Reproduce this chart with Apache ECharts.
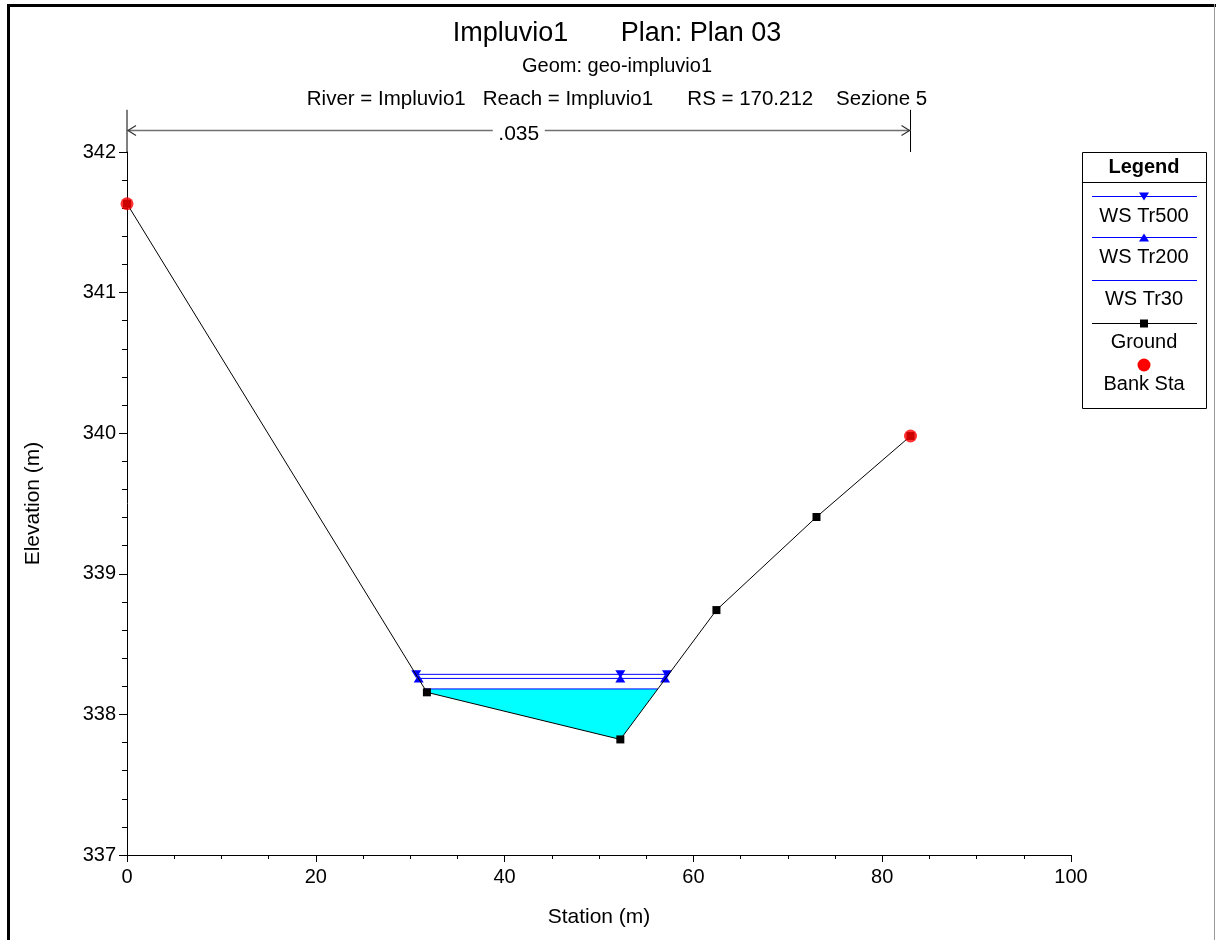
<!DOCTYPE html>
<html>
<head>
<meta charset="utf-8">
<script src="https://cdn.jsdelivr.net/npm/echarts@6/dist/echarts.min.js"></script>
<style>
html,body{margin:0;padding:0;background:#fff;}
#chart{width:1216px;height:940px;}
</style>
</head>
<body>
<div id="chart"></div>
<script>
// ---- Data ----
const titleText = 'Impluvio1       Plan: Plan 03';
const subText1 = 'Geom: geo-impluvio1';
const subText2 = 'River = Impluvio1   Reach = Impluvio1      RS = 170.212    Sezione 5';

const groundSta  = [0, 31.77, 52.26, 62.44, 73.04, 83.0];
const groundElev = [341.632, 338.157, 337.822, 338.742, 339.404, 339.98];

const bankSta  = [0, 83.0];
const bankElev = [341.632, 339.98];

const wsTr500Sta  = [30.64, 52.26, 57.2];
const wsTr500Elev = 338.285;
const wsTr200Sta  = [30.9, 52.26, 57.0];
const wsTr200Elev = 338.256;
const wsTr30Sta   = [31.55, 56.23];
const wsTr30Elev  = 338.181;

const nStations = [0, 83.0];
const nValue = '.035';

const xTicks = {min: 0, max: 100, interval: 20};
const yTicks = {min: 337, max: 342, interval: 1};

const legendItems = ['WS Tr500', 'WS Tr200', 'WS Tr30', 'Ground', 'Bank Sta'];

// ---- Build ----
const FONT = 'Liberation Sans, Arial, sans-serif';
const pair = (s, e) => s.map((x, i) => [x, Array.isArray(e) ? e[i] : e]);

const groundData = pair(groundSta, groundElev);
const bankData = pair(bankSta, bankElev);
const ws500Data = pair(wsTr500Sta, wsTr500Elev);
const ws200Data = pair(wsTr200Sta, wsTr200Elev);
const ws30Data = pair(wsTr30Sta, wsTr30Elev);

// water polygon for WS Tr30: surface then ground below it (reverse)
const waterPoly = [ws30Data[0], ws30Data[1]];
groundData.filter(p => p[0] > wsTr30Sta[0] && p[0] < wsTr30Sta[1])
  .reverse().forEach(p => waterPoly.push(p));

const chart = echarts.init(document.getElementById('chart'));

const legendGraphic = [];
(function(){
  const L = 1082, R = 1206, T = 152, B = 408, cx = 1144;
  legendGraphic.push({type:'rect', shape:{x:L+0.5,y:T+0.5,width:R-L,height:B-T}, style:{fill:'#fff',stroke:'#000',lineWidth:1}, z:100});
  legendGraphic.push({type:'line', shape:{x1:L,y1:182.5,x2:R,y2:182.5}, style:{stroke:'#000',lineWidth:1}, z:101});
  legendGraphic.push({type:'text', x:cx, y:167, style:{text:'Legend', font:'bold 20px '+FONT, fill:'#000', align:'center', verticalAlign:'middle'}, z:101});
  const rows = [
    {ly:196.5, ty:216, color:'#0000ff', sym:'down'},
    {ly:237.5, ty:257, color:'#0000ff', sym:'up'},
    {ly:280.5, ty:299, color:'#0000ff', sym:null},
    {ly:323.5, ty:342, color:'#000000', sym:'square'},
    {ly:365, ty:384, color:null, sym:'dot'}
  ];
  rows.forEach((r, i) => {
    if (r.color) legendGraphic.push({type:'line', shape:{x1:1092,y1:r.ly,x2:1197,y2:r.ly}, style:{stroke:r.color,lineWidth:1}, z:101});
    if (r.sym === 'down') legendGraphic.push({type:'polygon', shape:{points:[[cx-5,r.ly-4],[cx+5,r.ly-4],[cx,r.ly+4]]}, style:{fill:'#0000ff'}, z:102});
    if (r.sym === 'up') legendGraphic.push({type:'polygon', shape:{points:[[cx-5,r.ly+4],[cx+5,r.ly+4],[cx,r.ly-4]]}, style:{fill:'#0000ff'}, z:102});
    if (r.sym === 'square') legendGraphic.push({type:'rect', shape:{x:cx-4,y:r.ly-4,width:8,height:8}, style:{fill:'#000'}, z:102});
    if (r.sym === 'dot') legendGraphic.push({type:'circle', shape:{cx:cx,cy:r.ly,r:6.5}, style:{fill:'#ff0000'}, z:102});
    legendGraphic.push({type:'text', x:cx, y:r.ty, style:{text:legendItems[i], font:'20px '+FONT, fill:'#000', align:'center', verticalAlign:'middle'}, z:101});
  });
})();

const frameGraphic = [
  {type:'line', shape:{x1:8.5,y1:4,x2:8.5,y2:940}, style:{stroke:'#000',lineWidth:3}, z:200},
  {type:'line', shape:{x1:7,y1:5.5,x2:1216,y2:5.5}, style:{stroke:'#000',lineWidth:3}, z:200},
  {type:'line', shape:{x1:1214.5,y1:4,x2:1214.5,y2:940}, style:{stroke:'#999',lineWidth:1}, z:200}
];

const option = {
  animation: false,
  backgroundColor: '#fff',
  textStyle: {fontFamily: FONT},
  title: [
    {text: titleText, left: 612, top: 15, textAlign: 'center', textStyle:{fontSize:27, fontWeight:'normal', color:'#000', fontFamily:FONT}},
    {text: subText1, left: 612, top: 51, textAlign: 'center', textStyle:{fontSize:20, fontWeight:'normal', color:'#000', fontFamily:FONT}},
    {text: subText2, left: 612, top: 84, textAlign: 'center', textStyle:{fontSize:20.5, fontWeight:'normal', color:'#000', fontFamily:FONT}}
  ],
  grid: {left: 127, right: 145, top: 152, bottom: 85, containLabel: false},
  xAxis: {
    type: 'value', min: xTicks.min, max: xTicks.max, interval: xTicks.interval,
    name: 'Station (m)', nameLocation: 'middle', nameGap: 52,
    nameTextStyle: {fontSize: 21, color:'#000', fontFamily:FONT},
    axisLine: {lineStyle: {color:'#000', width:1}},
    axisTick: {length: 7, lineStyle:{color:'#000'}},
    minorTick: {show: true, splitNumber: 4, length: 4, lineStyle:{color:'#000'}},
    axisLabel: {fontSize: 20, color:'#000', margin: 12, fontFamily:FONT},
    splitLine: {show:false}, minorSplitLine:{show:false}
  },
  yAxis: {
    type: 'value', min: yTicks.min, max: yTicks.max, interval: yTicks.interval,
    name: 'Elevation (m)', nameLocation: 'middle', nameGap: 83, nameRotate: 90,
    nameTextStyle: {fontSize: 21, color:'#000', fontFamily:FONT},
    axisLine: {show: true, lineStyle: {color:'#000', width:1}},
    axisTick: {show: true, length: 8, lineStyle:{color:'#000'}},
    minorTick: {show: true, splitNumber: 5, length: 5, lineStyle:{color:'#000'}},
    axisLabel: {fontSize: 20, color:'#000', margin: 11, fontFamily:FONT},
    splitLine: {show:false}, minorSplitLine:{show:false}
  },
  graphic: frameGraphic.concat(legendGraphic),
  series: [
    {
      name: 'WS Tr30 fill', type: 'custom', silent: true, z: 1,
      data: [waterPoly[0]],
      renderItem: function(params, api) {
        return {type:'polygon', shape:{points: waterPoly.map(p => api.coord(p))}, style:{fill:'#00ffff', stroke:'none'}};
      }
    },
    {
      name: 'n values', type: 'custom', silent: true, z: 5, clip: false,
      data: [[nStations[0], nStations[1]]],
      renderItem: function(params, api) {
        const a = api.coord([api.value(0), 342.3]);
        const a0 = api.coord([api.value(0), yTicks.max]);
        const b = api.coord([api.value(1), 342.3]);
        const b0 = api.coord([api.value(1), yTicks.max]);
        const yA = Math.round(api.coord([0, 342.157])[1]) + 0.5;
        const xl = a[0], xr = b[0], xm = (xl + xr) / 2;
        const gap = 26;
        const g = '#707070';
        return {type:'group', children:[
          {type:'line', shape:{x1:xl,y1:a[1],x2:xl,y2:a0[1]}, style:{stroke:'#000',lineWidth:1}},
          {type:'line', shape:{x1:xr,y1:b[1],x2:xr,y2:b0[1]}, style:{stroke:'#000',lineWidth:1}},
          {type:'line', shape:{x1:xl,y1:yA,x2:xm-gap,y2:yA}, style:{stroke:g,lineWidth:1.5}},
          {type:'line', shape:{x1:xm+gap,y1:yA,x2:xr,y2:yA}, style:{stroke:g,lineWidth:1.5}},
          {type:'polyline', shape:{points:[[xl+9,yA-5],[xl+1,yA],[xl+9,yA+5]]}, style:{stroke:'#333',lineWidth:1.2,fill:'none'}},
          {type:'polyline', shape:{points:[[xr-9,yA-5],[xr-1,yA],[xr-9,yA+5]]}, style:{stroke:'#333',lineWidth:1.2,fill:'none'}},
          {type:'text', x:xm, y:yA+4, style:{text:nValue, font:'21px '+FONT, fill:'#000', align:'center', verticalAlign:'middle'}}
        ]};
      }
    },
    {
      name: 'WS Tr30', type: 'line', data: ws30Data, z: 3,
      symbol: 'none', lineStyle: {color:'#0000ff', width:1}
    },
    {
      name: 'WS Tr200', type: 'line', data: ws200Data, z: 3,
      symbol: 'triangle', symbolSize: [10, 8], itemStyle:{color:'#0000ff'},
      lineStyle: {color:'#0000ff', width:1}
    },
    {
      name: 'WS Tr500', type: 'line', data: ws500Data, z: 3,
      symbol: 'triangle', symbolRotate: 180, symbolSize: [10, 8], itemStyle:{color:'#0000ff'},
      lineStyle: {color:'#0000ff', width:1}
    },
    {
      name: 'Ground', type: 'line', data: groundData, z: 4,
      symbol: 'rect', symbolSize: 8, itemStyle:{color:'#000'},
      lineStyle: {color:'#000', width:1}
    },
    {
      name: 'Bank Sta', type: 'scatter', data: bankData, z: 6,
      symbol: 'circle', symbolSize: 13, itemStyle:{color:'#ff0000'}
    }
  ]
};
chart.setOption(option);
</script>
</body>
</html>
